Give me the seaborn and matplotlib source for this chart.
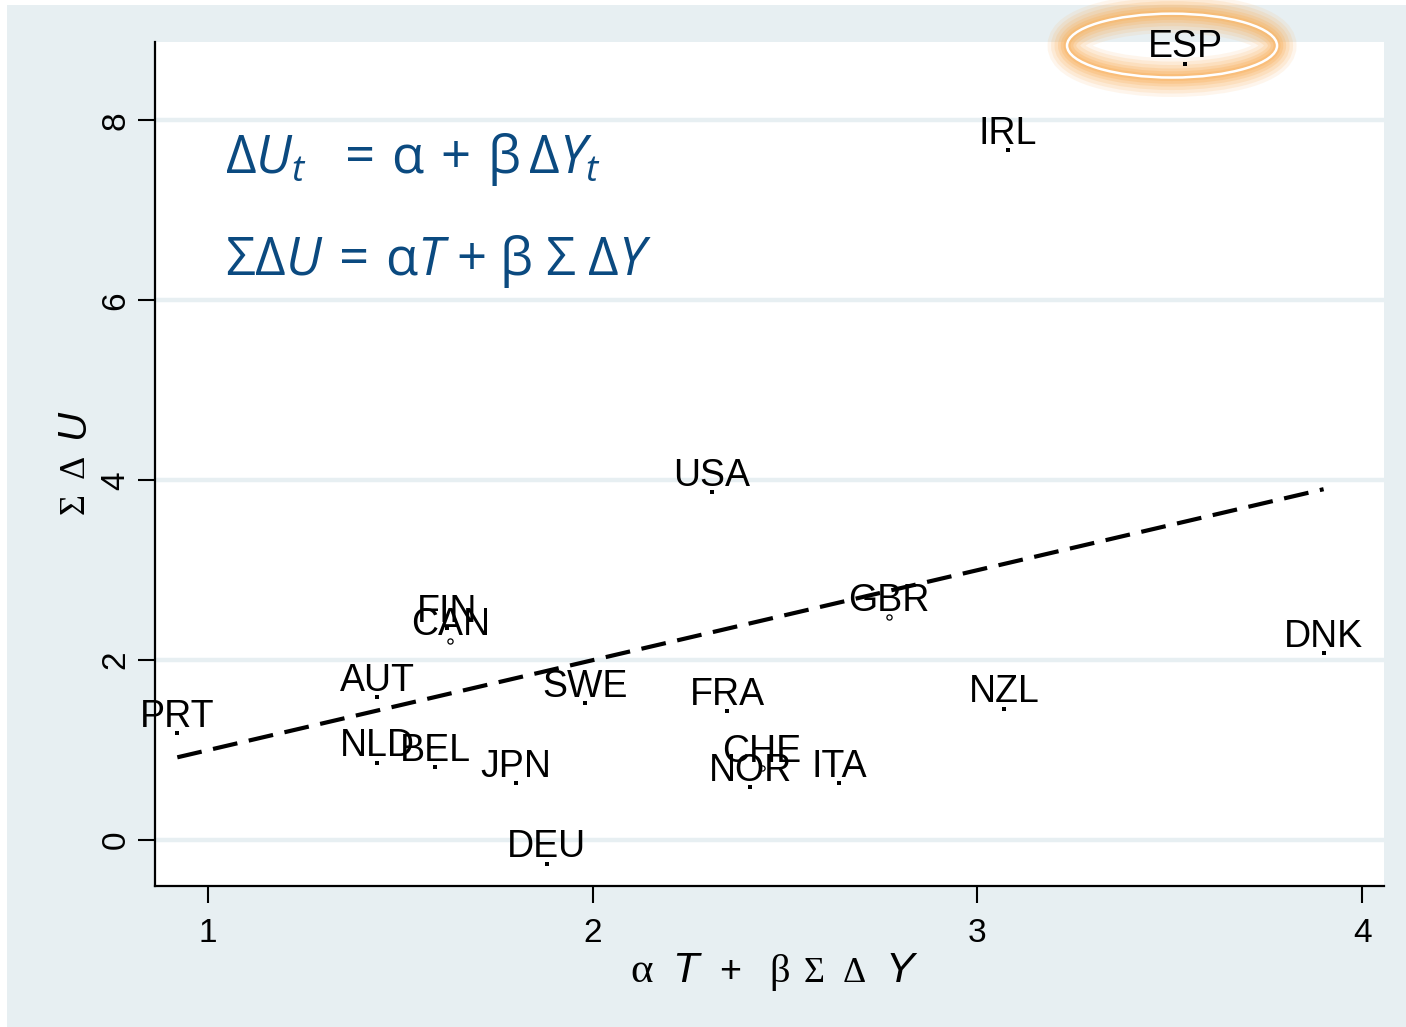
import numpy as np
import pandas as pd
import seaborn as sns
import matplotlib
matplotlib.use("Agg")
import matplotlib.pyplot as plt
from matplotlib.patches import Ellipse, Rectangle

# country labels and values
countries = ['ESP', 'IRL', 'USA', 'GBR', 'FIN', 'CAN', 'DNK', 'AUT', 'SWE', 'FRA',
             'NZL', 'PRT', 'NLD', 'BEL', 'JPN', 'CHE', 'NOR', 'ITA', 'DEU']
pred_u = [3.54, 3.08, 2.31, 2.77, 1.62, 1.63, 3.90, 1.44, 1.98, 2.35,
          3.07, 0.92, 1.44, 1.59, 1.80, 2.44, 2.41, 2.64, 1.88]
sum_du = [8.63, 7.67, 3.87, 2.48, 2.36, 2.21, 2.08, 1.59, 1.52, 1.43,
          1.46, 1.19, 0.86, 0.81, 0.63, 0.80, 0.59, 0.63, -0.26]
hollow = ['CAN', 'GBR', 'CHE']
x_ticks = [1, 2, 3, 4]
y_ticks = [0, 2, 4, 6, 8]
highlight = 'ESP'

df = pd.DataFrame({'country': countries, 'x': pred_u, 'y': sum_du})
df['fit'] = df['x']  # fitted sum of dU equals alpha*T + beta*sum dY
df['hollow'] = df['country'].isin(hollow)

BG = '#e7eff2'
BLUE = '#0b4a80'
W, H = 1406, 1027

sns.set_theme(style='white')
plt.rcParams['font.family'] = ['Liberation Sans', 'DejaVu Sans']
plt.rcParams['mathtext.fontset'] = 'custom'
plt.rcParams['mathtext.rm'] = 'Open Sans'
plt.rcParams['mathtext.it'] = 'Open Sans:italic'
plt.rcParams['mathtext.sf'] = 'Open Sans'

fig = plt.figure(figsize=(W / 100, H / 100), dpi=100, facecolor='white')
fig.add_artist(Rectangle((7 / W, 0), 1, 1 - 5 / H, transform=fig.transFigure,
                         facecolor=BG, edgecolor='none', zorder=0))
ax = fig.add_axes([155 / W, 1 - 886 / H, (1384 - 155) / W, (886 - 42) / H])
ax.set_facecolor('white')

sns.lineplot(data=df, x='x', y='fit', estimator=None, sort=True, color='black',
             lw=3.0, ax=ax, zorder=3)
ax.lines[-1].set_dashes([6.0, 2.8])
sns.scatterplot(data=df[~df['hollow']], x='x', y='y', marker='s', s=5, color='black',
                linewidth=0, ax=ax, zorder=4)
sns.scatterplot(data=df[df['hollow']], x='x', y='y', marker='o', s=14, facecolor='white',
                edgecolor='black', linewidth=0.9, ax=ax, zorder=4)

for _, r in df.iterrows():
    ax.annotate(r['country'], (r['x'], r['y']), xytext=(0, 4.5), textcoords='offset points',
                ha='center', va='baseline', fontsize=27, color='black', zorder=5,
                annotation_clip=False)

# glow around the highlighted label
hx = df.loc[df['country'] == highlight, 'x'].iloc[0] - 0.034
hy = df.loc[df['country'] == highlight, 'y'].iloc[0] + 0.2
for lw, a in [(28, 0.12), (23, 0.16), (18, 0.2), (13, 0.26), (9, 0.33), (5, 0.45)]:
    ax.add_patch(Ellipse((hx, hy), 0.546, 0.71, fill=False, edgecolor='#f9b463',
                         lw=lw, alpha=a, clip_on=False, zorder=2))
ax.add_patch(Ellipse((hx, hy), 0.546, 0.71, fill=False, edgecolor='white',
                     lw=1.8, clip_on=False, zorder=2.5))

ax.set_xlim(0.862, 4.057)
ax.set_ylim(-0.51, 8.87)
ax.set_xticks(x_ticks)
ax.set_yticks(y_ticks)
ax.set_xlabel('')
ax.set_ylabel('')
ax.yaxis.grid(True, color=BG, lw=3.2)
ax.xaxis.grid(False)
ax.set_axisbelow(True)
for s in ['top', 'right']:
    ax.spines[s].set_visible(False)
for s in ['left', 'bottom']:
    ax.spines[s].set_color('black')
    ax.spines[s].set_linewidth(1.6)
ax.tick_params(axis='both', direction='out', length=12, width=1.5, color='black',
               labelsize=24, labelcolor='black', bottom=True, left=True)
ax.tick_params(axis='x', pad=11)
ax.tick_params(axis='y', pad=5)
plt.setp(ax.get_yticklabels(), rotation=90, va='center')

# equations
fig.text(225 / W, 1 - 173 / H, r'$\mathrm{\Delta}U_t\ \ \mathrm{=\,\alpha\,+\,\beta\,\Delta}Y_t$',
         fontsize=38, color=BLUE, ha='left', va='baseline')
fig.text(225 / W, 1 - 275 / H, r'$\mathrm{\Sigma\Delta}U\,\mathrm{=\,\alpha}T\;\mathrm{+\;\beta\;\Sigma\;\Delta}Y$',
         fontsize=38, color=BLUE, ha='left', va='baseline')

# axis titles: serif greek letters mixed with italic sans letters
serif = ['Liberation Serif', 'DejaVu Serif']
sans = ['Liberation Sans', 'DejaVu Sans']
xlab = [('α', 642, serif, 'normal', 31), ('T', 685, sans, 'italic', 31),
        ('+', 730, sans, 'normal', 27), ('β', 780, serif, 'normal', 29),
        ('Σ', 814, serif, 'normal', 26), ('Δ', 854, serif, 'normal', 26),
        ('Y', 900, sans, 'italic', 31)]
for t, px, fam, sty, fs in xlab:
    fig.text(px / W, 1 - 982 / H, t, family=fam, style=sty, fontsize=fs,
             ha='center', va='baseline', color='black')
ylab = [('Σ', 504, serif, 'normal', 26), ('Δ', 466, serif, 'normal', 26),
        ('U', 423, sans, 'italic', 29)]
for t, py, fam, sty, fs in ylab:
    fig.text(84 / W, 1 - py / H, t, family=fam, style=sty, fontsize=fs, rotation=90,
             rotation_mode='anchor', ha='center', va='baseline', color='black')

fig.savefig('out.png', dpi=100, facecolor='white')
